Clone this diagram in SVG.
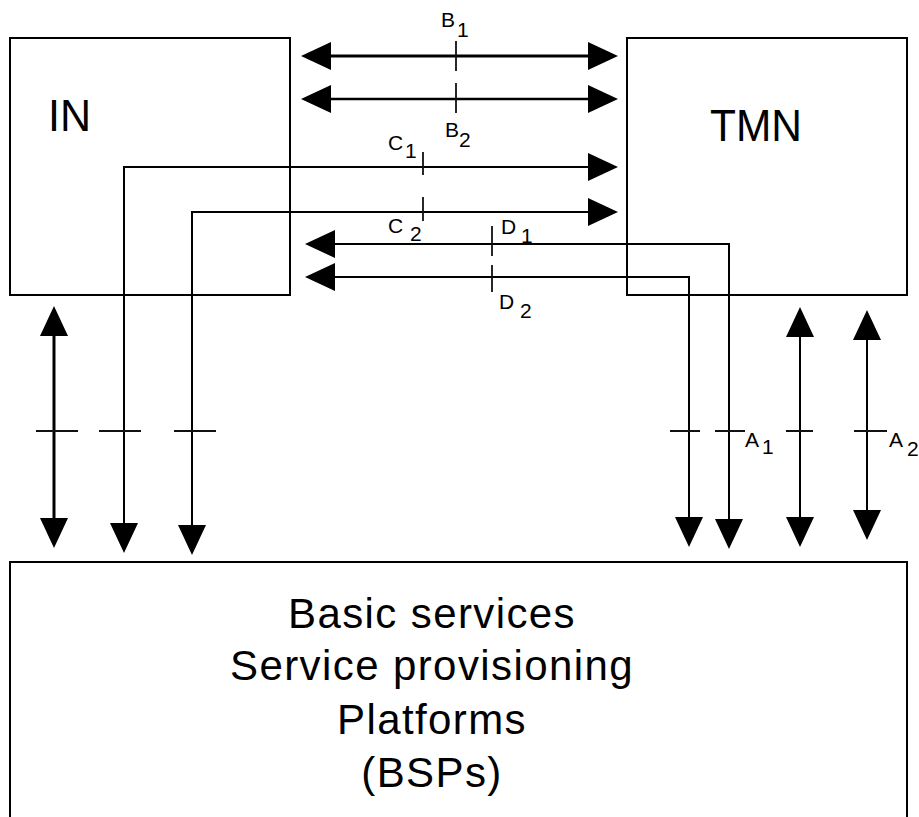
<svg xmlns="http://www.w3.org/2000/svg" width="919" height="817" viewBox="0 0 919 817">
<style>
.box{fill:#fff;stroke:#000;stroke-width:2}
.big{font-family:"Liberation Sans",Arial,sans-serif;font-size:44px;fill:#000}
.bsp{font-family:"Liberation Sans",Arial,sans-serif;font-size:42px;letter-spacing:1.4px;fill:#000;text-anchor:middle}
.lbl{font-family:"Liberation Sans",Arial,sans-serif;font-size:21px;fill:#000}
.ln{fill:none;stroke:#000;stroke-width:2;marker-start:url(#ah);marker-end:url(#ah)}
.thick{stroke-width:3}
.tick{stroke:#111;stroke-width:1.8;fill:none}
</style>
<defs>
<marker id="ah" viewBox="0 0 30 28" refX="2" refY="14" markerWidth="30" markerHeight="28" markerUnits="userSpaceOnUse" orient="auto-start-reverse">
<path d="M0,0 L30,14 L0,28 z" fill="#000"/>
</marker>
</defs>
<g id="node-in">
<rect class="box" x="10" y="38" width="280" height="257"/>
<text class="big" x="48" y="131" textLength="43" lengthAdjust="spacingAndGlyphs">IN</text>
</g>
<g id="node-tmn">
<rect class="box" x="627" y="38" width="280" height="257"/>
<text class="big" x="710" y="141" textLength="92" lengthAdjust="spacingAndGlyphs">TMN</text>
</g>
<g id="node-bsp">
<rect class="box" x="10" y="562" width="897" height="270"/>
<text class="bsp" x="432" y="628">Basic services</text>
<text class="bsp" x="432" y="680">Service provisioning</text>
<text class="bsp" x="432" y="734">Platforms</text>
<text class="bsp" x="432" y="787">(BSPs)</text>
</g>
<g id="connectors">
<path class="ln thick" d="M329,56 L590,56"/>
<path class="ln" style="stroke-width:2.6" d="M329,99 L590,99"/>
<path class="ln" d="M590,167 L124,167 L124,525"/>
<path class="ln" d="M590,212 L192,212 L192,527"/>
<path class="ln" d="M333,244 L729,244 L729,521"/>
<path class="ln" d="M333,277 L689,277 L689,519"/>
<path class="ln thick" d="M54,334 L54,520"/>
<path class="ln" d="M800,335 L800,519"/>
<path class="ln" d="M867,338 L867,512"/>
</g>
<g id="ticks">
<path class="tick" d="M456,41 V71 M456,83 V113 M423,152 V175 M423,197 V221 M492,226 V256 M492,265 V292"/>
<path class="tick" d="M36,431 H78 M99,431 H141 M174,431 H216 M670,431 H700 M715,431 H745 M786,431 H813 M854,431 H887"/>
</g>
<g id="labels">
<text class="lbl"><tspan x="441" y="27">B</tspan><tspan x="457" y="37">1</tspan></text>
<text class="lbl"><tspan x="445" y="137">B</tspan><tspan x="459" y="147">2</tspan></text>
<text class="lbl"><tspan x="388" y="150">C</tspan><tspan x="405" y="158">1</tspan></text>
<text class="lbl"><tspan x="388" y="233">C</tspan><tspan x="410" y="241">2</tspan></text>
<text class="lbl"><tspan x="501" y="234">D</tspan><tspan x="521" y="243">1</tspan></text>
<text class="lbl"><tspan x="499" y="309">D</tspan><tspan x="520" y="318">2</tspan></text>
<text class="lbl"><tspan x="745" y="447">A</tspan><tspan x="762" y="454">1</tspan></text>
<text class="lbl"><tspan x="889" y="447">A</tspan><tspan x="907" y="456">2</tspan></text>
</g>
</svg>
